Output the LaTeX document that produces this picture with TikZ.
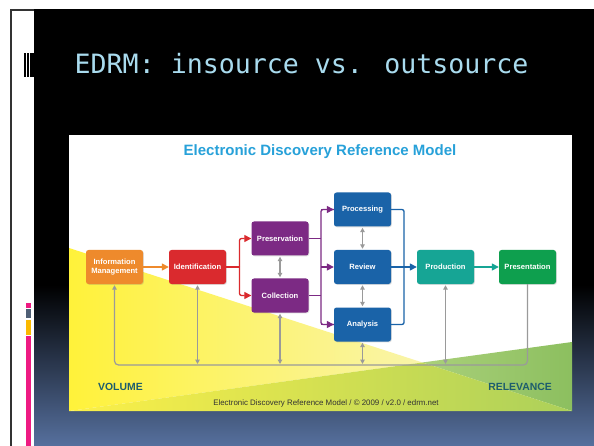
\documentclass[tikz,border=0pt]{standalone}
\usepackage{fontspec}
\setmainfont{Liberation Sans}
\newfontfamily\monofont{DejaVu Sans Mono}
\usetikzlibrary{arrows.meta,shadows,calc}
\definecolor{slidebot}{HTML}{56709E}
\definecolor{titleblue}{HTML}{A9DBEE}
\definecolor{edrmblue}{HTML}{27A1D9}
\definecolor{cOrange}{HTML}{EE8A2C}
\definecolor{cRed}{HTML}{DA2A2E}
\definecolor{cPurple}{HTML}{7C2A84}
\definecolor{cBlue}{HTML}{1A63A8}
\definecolor{cTeal}{HTML}{16A595}
\definecolor{cGreen}{HTML}{0E9F4E}
\definecolor{cGray}{HTML}{9A9A9A}
\definecolor{labTeal}{HTML}{1D5D6D}
\definecolor{barPink}{HTML}{EE1A82}
\definecolor{barSlate}{HTML}{4F5F75}
\definecolor{barAmber}{HTML}{FBB900}
\tikzset{
  box/.style={rounded corners=2.5pt, minimum width=57pt, minimum height=34pt, inner sep=0pt,
    text=white, align=center, font=\bfseries\fontsize{7.6}{8.6}\selectfont,
    drop shadow={opacity=0.25, shadow xshift=0.8pt, shadow yshift=-0.8pt}},
  flow/.style={line width=1.3pt, -{Triangle[length=7pt,width=7pt]}},
  flowline/.style={line width=1.3pt},
  fb/.style={cGray, line width=1.2pt, {Triangle[length=4.5pt,width=4.5pt]}-{Triangle[length=4.5pt,width=4.5pt]}, shorten <=1pt, shorten >=1pt},
  lab/.style={text=labTeal, font=\bfseries\fontsize{10.4}{12}\selectfont, inner sep=0pt}
}
\begin{document}
\begin{tikzpicture}[x=1pt,y=-1pt]
\useasboundingbox (0,0) rectangle (594,446);
% slide background
\fill[white] (0,0) rectangle (594,446);
\fill[black] (34,9) rectangle (594,446);
\shade[top color=black, bottom color=slidebot] (34,285) rectangle (594,446);
\fill[black!80] (10,9) rectangle (12.3,446);
\fill[black!80] (10,9) rectangle (34,10.6);
% title marks
\fill[black] (24,53) rectangle (25.7,77);
\fill[black] (27.3,53) rectangle (29.3,77);
\fill[black] (30.3,53) rectangle (34,77);
% sidebar bars
\fill[barPink] (26,303) rectangle (31,308);
\fill[barSlate] (26,309) rectangle (31,318);
\fill[barAmber] (26,320) rectangle (31,335);
\fill[barPink] (26,336) rectangle (31,446);
% title
\node[anchor=base west, inner sep=0pt, text=titleblue, font=\monofont\fontsize{26.6}{30}\selectfont] (title) at (74.5,73.5) {EDRM: insource vs. outsource};
% figure
\fill[white] (69,135) rectangle (572,411);
\shade[left color={rgb,255:red,255;green,242;blue,58}, right color={rgb,255:red,249;green,244;blue,170}] (69,248) -- (422.4,362.5) -- (69,411) -- cycle;
\shade[left color={rgb,255:red,170;green,208;blue,122}, right color={rgb,255:red,140;green,191;blue,95}] (422.4,362.5) -- (572,342) -- (572,411) -- cycle;
\shade[left color={rgb,255:red,252;green,240;blue,72}, right color={rgb,255:red,172;green,208;blue,90}] (69,411) -- (422.4,362.5) -- (572,411) -- cycle;
\node[font=\bfseries\fontsize{15}{17}\selectfont, text=edrmblue, inner sep=0pt] (ftitle) at (320,152) {Electronic Discovery Reference Model};
% boxes
\node[box, fill=cOrange] (im) at (114.5,267) {Information\\Management};
\node[box, fill=cRed] (id) at (197.5,267) {Identification};
\node[box, fill=cPurple] (pres) at (280,238.5) {Preservation};
\node[box, fill=cPurple] (coll) at (280,295.5) {Collection};
\node[box, fill=cBlue] (proc) at (362.5,209.5) {Processing};
\node[box, fill=cBlue] (rev) at (362.5,267) {Review};
\node[box, fill=cBlue] (ana) at (362.5,324.5) {Analysis};
\node[box, fill=cTeal] (prod) at (445.5,267) {Production};
\node[box, fill=cGreen] (pst) at (527.5,267) {Presentation};
% junctions
\coordinate (rj) at (239.5,267);
\coordinate (pj) at (321,267);
\coordinate (bj) at (404,267);
\coordinate (bl) at (0,365);
% main flow
\draw[flow, cOrange] (im) -- (id);
\draw[flowline, cRed] (id.east) -- (rj);
\draw[flow, cRed, rounded corners=2pt] (rj) |- (pres.west);
\draw[flow, cRed, rounded corners=2pt] (rj) |- (coll.west);
\draw[flowline, cPurple] (pres.east) -- (pres.east -| pj);
\draw[flowline, cPurple] (coll.east) -- (coll.east -| pj);
\draw[flowline, cPurple, rounded corners=2pt] (proc.west) -- (pj |- proc) -- (pj |- ana) -- (ana.west);
\draw[flow, cPurple] (pj |- proc) -- (proc.west);
\draw[flow, cPurple] (pj) -- (rev.west);
\draw[flow, cPurple] (pj |- ana) -- (ana.west);
\draw[flowline, cBlue, rounded corners=2pt] (proc.east) -- (proc.east -| bj) -- (bj |- ana) -- (ana.east);
\draw[flow, cBlue] (rev.east) -- (prod.west);
\draw[flow, cTeal] (prod.east) -- (pst.west);
% two-way links
\draw[fb] (pres.south) -- (coll.north);
\draw[fb] (proc.south) -- (rev.north);
\draw[fb] (rev.south) -- (ana.north);
% feedback loop
\draw[cGray, line width=1.2pt, rounded corners=4pt, -{Triangle[length=4.5pt,width=4.5pt]}, shorten >=1pt] (pst.south) -- (pst.south |- bl) -- (im.south |- bl) -- (im.south);
\draw[fb] (id.south) -- (id.south |- bl);
\draw[fb] (coll.south) -- (coll.south |- bl);
\draw[fb] (ana.south) -- (ana.south |- bl);
\draw[fb] (prod.south) -- (prod.south |- bl);
% labels
\node[lab, anchor=west] (vol) at (98,387) {VOLUME};
\node[lab, anchor=east] (relv) at (552,387) {RELEVANCE};
\node[font=\fontsize{7.9}{9}\selectfont, text=black!80, inner sep=0pt] (foot) at (326,403.5) {Electronic Discovery Reference Model / © 2009 / v2.0 / edrm.net};
\end{tikzpicture}
\end{document}
